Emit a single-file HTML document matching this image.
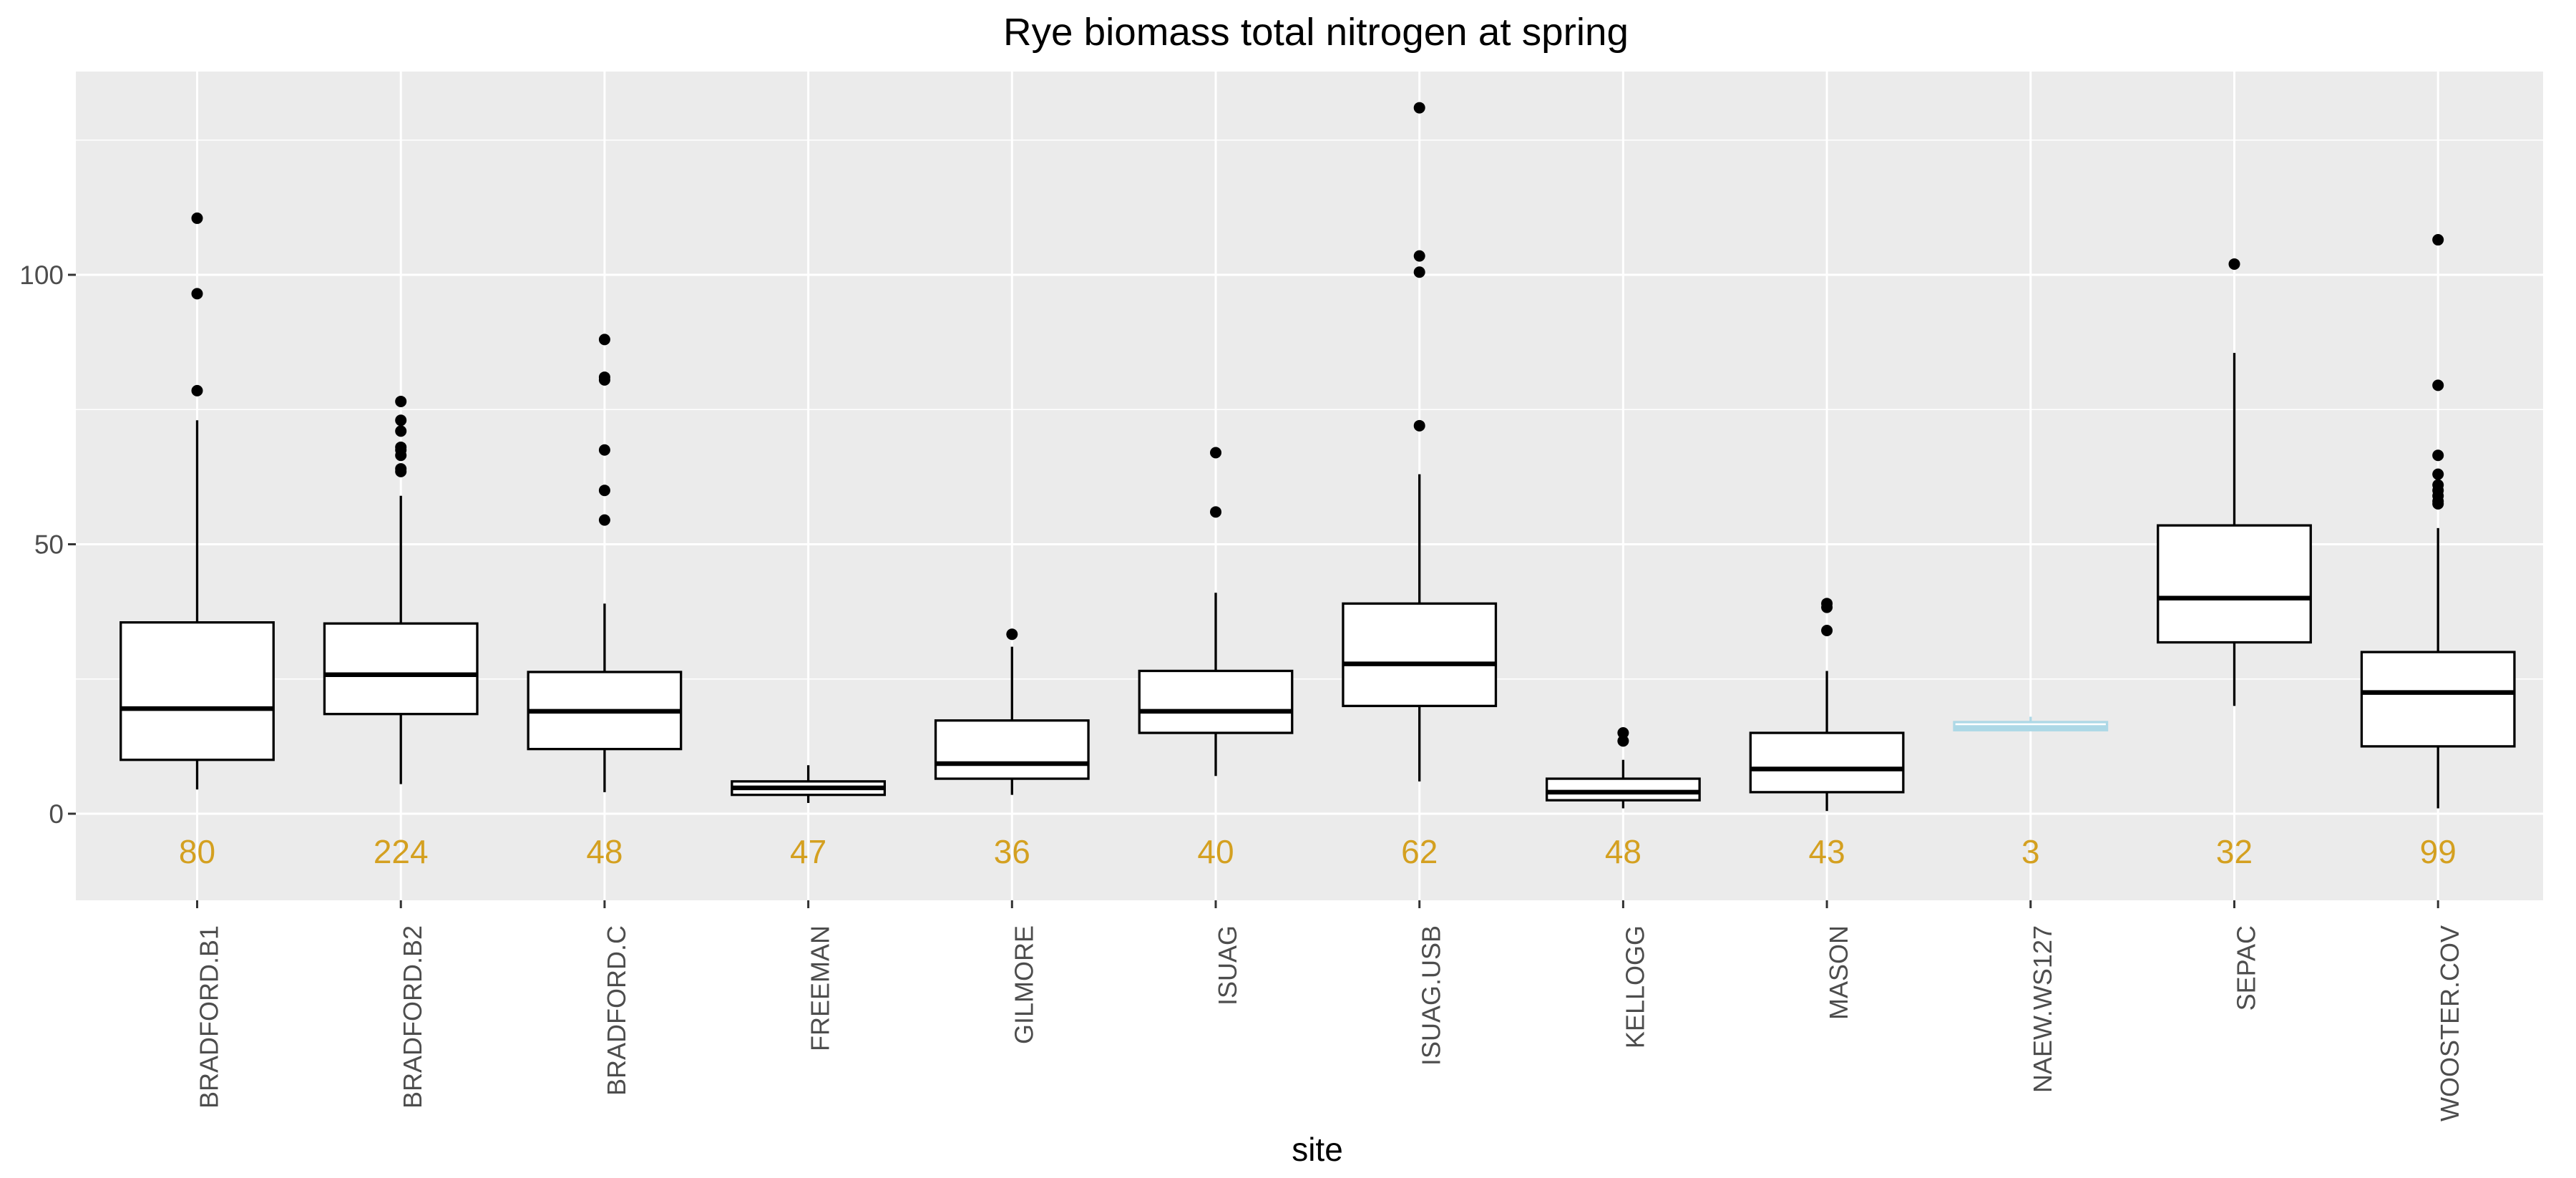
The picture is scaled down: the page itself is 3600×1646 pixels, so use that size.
<!DOCTYPE html>
<html><head><meta charset="utf-8"><style>
html,body{margin:0;padding:0;background:#fff;}
svg{display:block;font-family:"Liberation Sans",Arial,sans-serif;}
</style></head><body>
<svg id="chart" width="3600" height="1646" viewBox="0 0 3600 1646">
<rect x="0" y="0" width="3600" height="1646" fill="#fff"/>
<text x="1839" y="63" font-size="54" text-anchor="middle" fill="#000" textLength="874" lengthAdjust="spacingAndGlyphs">Rye biomass total nitrogen at spring</text>
<rect x="106" y="100" width="3448" height="1158" fill="#EBEBEB"/>
<g id="grid"></g>
<g id="boxes"></g>
<g id="axes"></g>
<text x="1841" y="1622" font-size="46" text-anchor="middle" fill="#000">site</text>
</svg>
<script>
const sites = ["BRADFORD.B1","BRADFORD.B2","BRADFORD.C","FREEMAN","GILMORE","ISUAG","ISUAG.USB","KELLOGG","MASON","NAEW.WS127","SEPAC","WOOSTER.COV"];
const counts = [80,224,48,47,36,40,62,48,43,3,32,99];
const whiskerLow = [4.5,5.5,4,2,3.5,7,6,1,0.5,15.5,20,1];
const q1 = [10,18.5,12,3.5,6.5,15,20,2.5,4,15.5,31.8,12.5];
const medians = [19.5,25.8,19,4.8,9.3,19,27.8,4,8.3,16,40,22.5];
const q3 = [35.5,35.3,26.3,6,17.3,26.5,39,6.5,15,17,53.5,30];
const whiskerHigh = [73,59,39,9,31,41,63,10,26.5,18,85.5,53];
const outliers = [[78.5,96.5,110.5],[63.5,64,66.5,67.5,68,71,73,76.5],[54.5,60,67.5,80.5,81,88],[],[33.3],[56,67],[72,100.5,103.5,131],[13.5,15],[34,38.3,39],[],[102],[57.5,58,59,60,61,63,66.5,79.5,106.5]];
const yTicks = [0,50,100];
const yMinor = [25,75,125];

const NS="http://www.w3.org/2000/svg";
const PL=106, PR=3554, PT=100, PB=1258;
const Y0=1137, PXU=7.53;
function y(v){return Y0 - v*PXU;}
const X0=275.5, step=284.7;
function x(i){return X0 + step*i;}
function mk(tag, attrs, parent){const e=document.createElementNS(NS,tag);for(const k in attrs)e.setAttribute(k,attrs[k]);parent.appendChild(e);return e;}
const grid=document.getElementById('grid'), boxes=document.getElementById('boxes'), axes=document.getElementById('axes');

yMinor.forEach(v=>{
  const l=mk('line',{x1:PL,x2:PR,y1:y(v),y2:y(v),stroke:'#fff','stroke-width':1.5},grid);
  
  
});
yTicks.forEach(v=>{
  const l=mk('line',{x1:PL,x2:PR,y1:y(v),y2:y(v),stroke:'#fff','stroke-width':3},grid);
  
  
  const t=mk('line',{x1:PL-11,x2:PL,y1:y(v),y2:y(v),stroke:'#333','stroke-width':3},axes);
  
  
  const tx=mk('text',{x:PL-17,y:y(v)+13,'font-size':37,'text-anchor':'end',fill:'#4D4D4D'},axes);
  tx.textContent=v;
  
  
});
sites.forEach((s,i)=>{
  const cx=x(i);
  const g=mk('line',{x1:cx,x2:cx,y1:PT,y2:PB,stroke:'#fff','stroke-width':3},grid);
  
  
  const col = s==="NAEW.WS127" ? '#ADD8E6' : '#000';
  const bw=step*0.75;
  const grp=mk('g',{},boxes);
  
  
  mk('line',{x1:cx,x2:cx,y1:y(whiskerHigh[i]),y2:y(q3[i]),stroke:col,'stroke-width':3.3},grp);
  mk('line',{x1:cx,x2:cx,y1:y(q1[i]),y2:y(whiskerLow[i]),stroke:col,'stroke-width':3.3},grp);
  mk('rect',{x:cx-bw/2,y:y(q3[i]),width:bw,height:Math.max(y(q1[i])-y(q3[i]),0.5),fill:'#fff',stroke:col,'stroke-width':3.3},grp);
  mk('line',{x1:cx-bw/2,x2:cx+bw/2,y1:y(medians[i]),y2:y(medians[i]),stroke:col,'stroke-width':6.5},grp);
  outliers[i].forEach(o=>{
    const c=mk('circle',{cx:cx,cy:y(o),r:8,fill:'#000'},grp);
    
    
  });
  const ct=mk('text',{x:cx,y:1206,'font-size':46,'text-anchor':'middle',fill:'#D4A020'},boxes);
  ct.textContent=counts[i];
  
  
  const tk=mk('line',{x1:cx,x2:cx,y1:PB,y2:PB+11,stroke:'#333','stroke-width':3},axes);
  
  
  const lb=mk('text',{x:0,y:0,'font-size':36,'text-anchor':'end',fill:'#4D4D4D',transform:`translate(${cx+29},1293) rotate(-90)`},axes);
  lb.textContent=s;
  
  
});
</script>
</body></html>
